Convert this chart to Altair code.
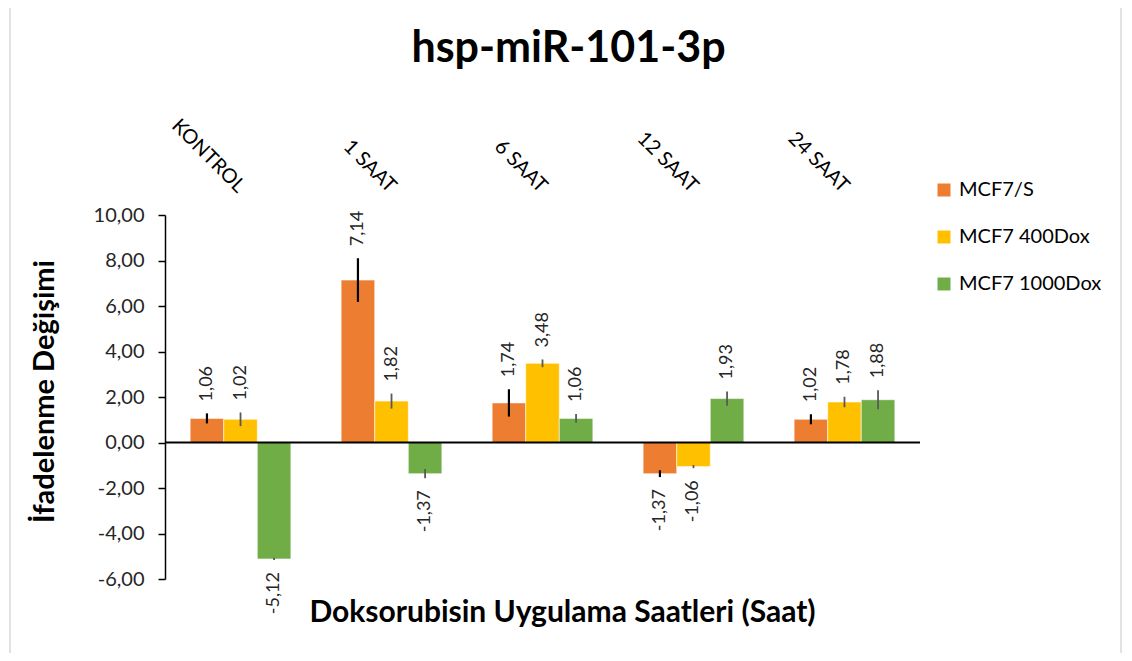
import altair as alt
import pandas as pd

categories = ["KONTROL", "1 SAAT", "6 SAAT", "12 SAAT", "24 SAAT"]
series = ["MCF7/S", "MCF7 400Dox", "MCF7 1000Dox"]
colors = ["#ED7D31", "#FFC000", "#70AD47"]

mcf7_s = [1.06, 7.14, 1.74, -1.37, 1.02]
mcf7_400 = [1.02, 1.82, 3.48, -1.06, 1.78]
mcf7_1000 = [-5.12, -1.37, 1.06, 1.93, 1.88]

err_s = [0.22, 0.96, 0.60, 0.15, 0.22]
err_400 = [0.30, 0.33, 0.17, 0.07, 0.23]
err_1000 = [0.05, 0.20, 0.19, 0.31, 0.42]

rows = []
for s, vals, errs in zip(series, [mcf7_s, mcf7_400, mcf7_1000], [err_s, err_400, err_1000]):
    for c, v, e in zip(categories, vals, errs):
        rows.append({"cat": c, "series": s, "value": v, "err": e})
df = pd.DataFrame(rows)

FONT = "Lato"
TXT = "#262626"
FMT = "(datum.value < 0 ? '-' : '') + replace(format(abs(datum.value), '.2f'), '.', ',')"

base = alt.Chart(df)

x_top = alt.X("cat:N", sort=categories,
              scale=alt.Scale(paddingInner=0.333, paddingOuter=0.1667),
              axis=alt.Axis(orient="top", title=None, labelAngle=45, domain=False, ticks=False,
                            labelPadding=19, labelOffset=-6, labelFontSize=20, labelFont=FONT,
                            labelColor="#000"))
x_bottom = alt.X("cat:N", sort=categories,
                 axis=alt.Axis(orient="bottom", labels=False, ticks=False, domain=False,
                               title="Doksorubisin Uygulama Saatleri (Saat)", titleFont=FONT,
                               titleFontSize=30, titleFontWeight="bold", titleColor="#000",
                               titlePadding=18, titleX=397))
x_none = alt.X("cat:N", sort=categories, axis=None)
xoff = alt.XOffset("series:N", sort=series)

y_enc = alt.Y("value:Q",
              scale=alt.Scale(domain=[-6, 10], nice=False, zero=False),
              axis=alt.Axis(values=list(range(-6, 11, 2)),
                            labelExpr=FMT,
                            grid=False, domainColor="#000", domainWidth=1.5, tickColor="#000",
                            tickSize=7, tickWidth=1.5, labelPadding=14, labelFontSize=20,
                            labelFont=FONT, labelColor=TXT,
                            title="İfadelenme Değişimi", titleFont=FONT, titleFontSize=29,
                            titleFontWeight="bold", titleColor="#000", titlePadding=34,
                            titleY=176))

bars = base.mark_bar(stroke="white", strokeWidth=0.8, strokeOpacity=0.7).encode(
    x=x_top, xOffset=xoff, y=y_enc,
    color=alt.Color("series:N", sort=series,
                    scale=alt.Scale(domain=series, range=colors),
                    legend=alt.Legend(orient="none", legendX=769, legendY=-35, title=None,
                                      symbolType="square", symbolSize=169, symbolStrokeWidth=0,
                                      labelFontSize=20, labelFont=FONT, labelColor="#000",
                                      rowPadding=27, labelOffset=5)),
)

errs = base.transform_calculate(lo="datum.value - datum.err", hi="datum.value + datum.err").mark_rule().encode(
    x=x_bottom, xOffset=xoff,
    y=alt.Y("lo:Q"), y2="hi:Q",
    color=alt.condition("datum.series == 'MCF7/S'", alt.value("#000"), alt.value("#595959")),
    strokeWidth=alt.condition("datum.series == 'MCF7/S'", alt.value(2.2), alt.value(1.8)),
)

lab = base.transform_calculate(
    label=FMT,
    hi="datum.value + datum.err",
    lo="datum.value - datum.err",
)
lab_pos = lab.transform_filter("datum.value >= 0").mark_text(
    angle=270, align="left", baseline="middle", dx=12, fontSize=18, font=FONT, color=TXT
).encode(x=x_none, xOffset=xoff, y="hi:Q", text="label:N")
lab_neg = lab.transform_filter("datum.value < 0").mark_text(
    angle=270, align="right", baseline="middle", dx=-12, fontSize=18, font=FONT, color=TXT
).encode(x=x_none, xOffset=xoff, y="lo:Q", text="label:N")

zero = alt.Chart(alt.Data(values=[{"z": 0}])).mark_rule(color="#000", strokeWidth=2).encode(
    y=alt.Y("z:Q")
)

border = alt.Chart(alt.Data(values=[{}])).mark_rect(fill=None, stroke="#d9d9d9", strokeWidth=1.5).encode(
    x=alt.value(-155), x2=alt.value(956), y=alt.value(-210), y2=alt.value(441)
)

chart = alt.layer(border, bars, errs, zero, lab_pos, lab_neg).resolve_axis(x="independent").properties(
    width=755, height=364,
    autosize=alt.AutoSizeParams(type="none"),
    padding={"left": 157, "top": 207, "right": 204, "bottom": 74},
    title=alt.TitleParams("hsp-miR-101-3p", fontSize=43, fontWeight="bold", font=FONT,
                          color="#000", anchor="middle", offset=-67, dx=26),
).configure(background="white", view=alt.ViewConfig(stroke="transparent", strokeWidth=0))

chart.save("out.html", embed_options={"renderer": "svg", "actions": False})
